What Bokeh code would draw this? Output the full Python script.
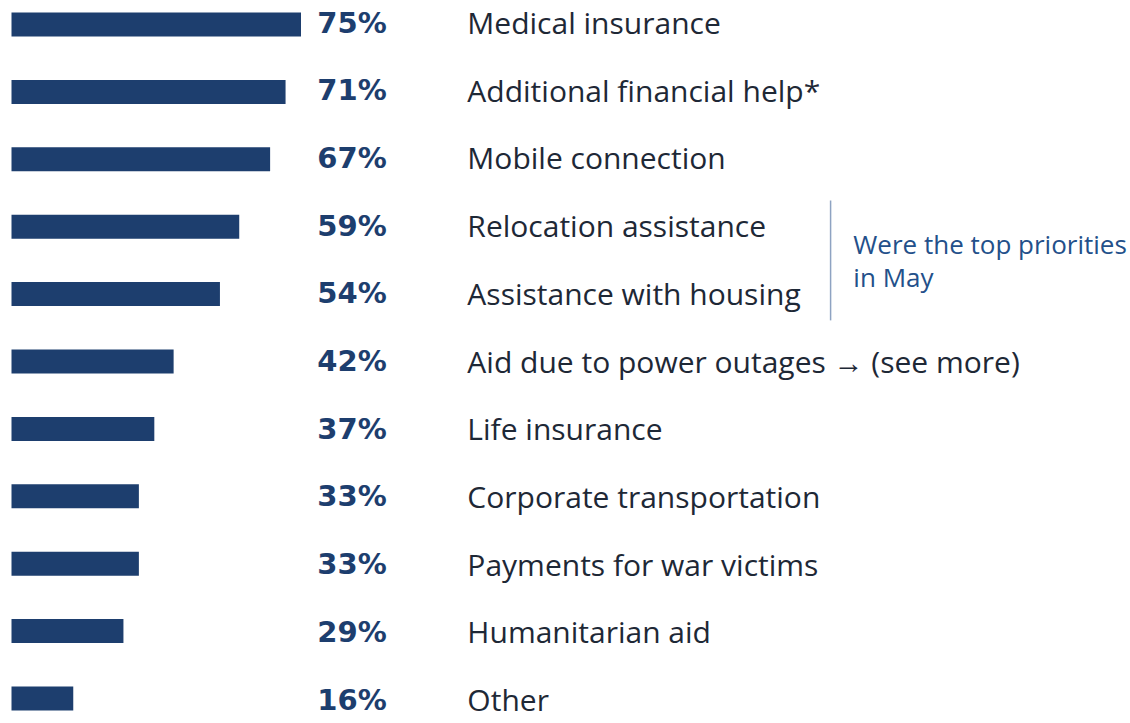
from bokeh.plotting import figure
from bokeh.models import Range1d, ColumnDataSource
from bokeh.embed import file_html
from bokeh.resources import INLINE
from bokeh.core.properties import value

categories = [
    "Medical insurance",
    "Additional financial help*",
    "Mobile connection",
    "Relocation assistance",
    "Assistance with housing",
    "Aid due to power outages \u2192 (see more)",
    "Life insurance",
    "Corporate transportation",
    "Payments for war victims",
    "Humanitarian aid",
    "Other",
]
values = [75, 71, 67, 59, 54, 42, 37, 33, 33, 29, 16]
pct_labels = [f"{v}%" for v in values]
note_lines = ["Were the top priorities", "in May"]
note_rows = [3, 4]

BAR_COLOR = "#1d3e6e"
LABEL_COLOR = "#1e2836"
NOTE_COLOR = "#23508a"
LINE_COLOR = "#8ea3c2"

W, H = 1130, 723
px_per_unit = 3.86
x0_px = 11
bar_step = 67.4
bar_first = 24
txt_step = 67.7
txt_first = 22

idx = list(range(len(categories)))

p = figure(width=W, height=H, output_backend="svg", toolbar_location=None,
           min_border=0, outline_line_color=None)
p.x_range = Range1d(-x0_px / px_per_unit, (W - x0_px) / px_per_unit)
bar_top = -bar_first / bar_step
p.y_range = Range1d(bar_top + H / bar_step, bar_top)
txt_top = -txt_first / txt_step
p.extra_y_ranges = {"txt": Range1d(txt_top + H / txt_step, txt_top)}
p.xaxis.visible = False
p.yaxis.visible = False
p.grid.visible = False
p.background_fill_color = "white"
p.border_fill_color = "white"

src = ColumnDataSource(dict(y=idx, v=values, cat=categories, pct=pct_labels,
                            zero=[0] * len(idx)))

p.hbar(y="y", left="zero", right="v", height=0.356, source=src,
       fill_color=BAR_COLOR, line_color=None)

p.text(x=97.2, y="y", text="pct", source=src, y_range_name="txt",
       text_font=value("DejaVu Sans"), text_font_style="bold",
       text_font_size="29px", text_color=BAR_COLOR,
       text_align="right", text_baseline="middle")

p.text(x=118.1, y="y", text="cat", source=src, y_range_name="txt",
       text_font=value("Open Sans"), text_font_size="30px",
       text_color=LABEL_COLOR, text_align="left", text_baseline="middle")

# bracket line and note beside rows
mid = (note_rows[0] + note_rows[1]) / 2
p.segment(x0=[212.2], y0=[note_rows[0] - 0.39], x1=[212.2], y1=[note_rows[1] + 0.39],
          line_color=LINE_COLOR, line_width=1.5)
note_src = ColumnDataSource(dict(x=[218.1, 218.1], y=[mid, mid], t=note_lines,
                                 off=[-16, 17]))
p.text(x="x", y="y", text="t", y_offset="off", source=note_src,
       text_font=value("Open Sans"), text_font_size="26px", text_color=NOTE_COLOR,
       text_align="left", text_baseline="middle")

open("out.html", "w").write(file_html(p, INLINE))
